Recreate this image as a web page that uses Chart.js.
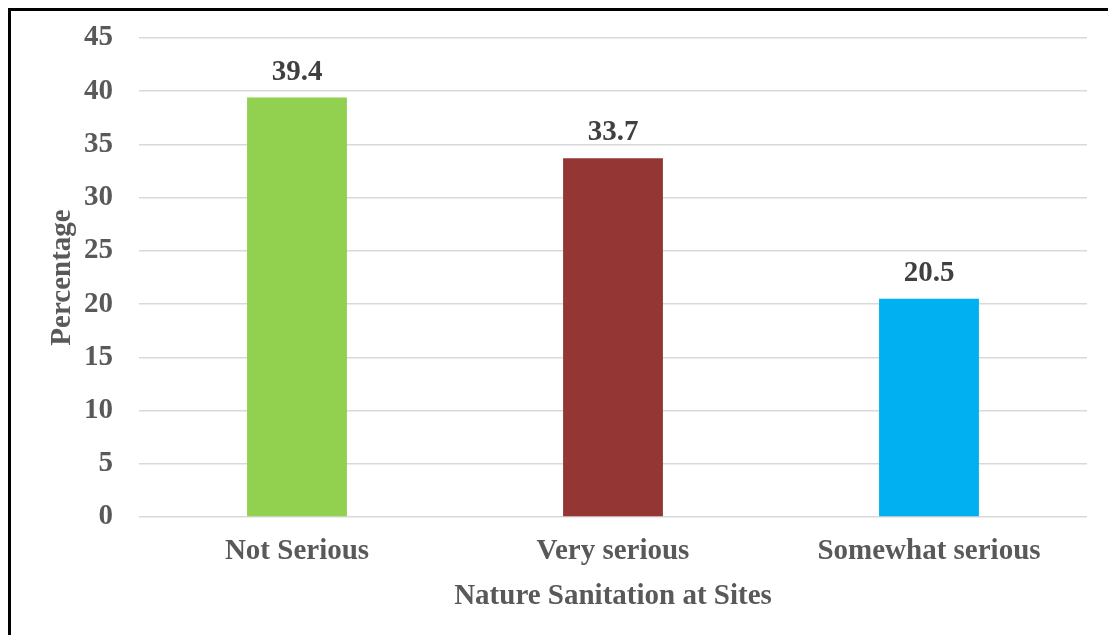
<!DOCTYPE html>
<html>
<head>
<meta charset="utf-8">
<script src="https://cdn.jsdelivr.net/npm/chart.js@4"></script>
<style>
  html, body { margin: 0; padding: 0; background: #fff; overflow: hidden; }
  #frame {
    position: absolute; left: 8px; top: 8px; width: 1200px; height: 700px;
    border: 3px solid #000; box-sizing: border-box;
  }
  #wrap { position: absolute; left: 0; top: 0; width: 1108px; height: 635px; }
</style>
</head>
<body>
<div id="frame"></div>
<div id="wrap"><canvas id="chart" width="1108" height="635"></canvas></div>
<script>
// Survey responses: perceived seriousness of sanitation at sites (%)
const categories = ['Not Serious', 'Very serious', 'Somewhat serious'];
const percentages = [39.4, 33.7, 20.5];
const barColors = ['#92D050', '#943634', '#00B0F0'];
const yTicks = [0, 5, 10, 15, 20, 25, 30, 35, 40, 45];

const serif = '"Liberation Serif", "Times New Roman", serif';

// Writes each bar's value just above it
const valueLabels = {
  id: 'valueLabels',
  afterDatasetsDraw(chart) {
    const ctx = chart.ctx;
    const meta = chart.getDatasetMeta(0);
    ctx.save();
    ctx.font = 'bold 29px ' + serif;
    ctx.fillStyle = '#404040';
    ctx.textAlign = 'center';
    ctx.textBaseline = 'alphabetic';
    meta.data.forEach((bar, i) => {
      ctx.fillText(percentages[i].toFixed(1), bar.x, bar.y - 18);
    });
    ctx.restore();
  }
};

new Chart(document.getElementById('chart'), {
  type: 'bar',
  data: {
    labels: categories,
    datasets: [{
      data: percentages,
      backgroundColor: barColors,
      borderWidth: 0,
      barPercentage: 0.316,
      categoryPercentage: 1.0
    }]
  },
  options: {
    responsive: false,
    animation: false,
    layout: { padding: { left: 10, right: 21, top: 38, bottom: 0 } },
    plugins: {
      legend: { display: false },
      tooltip: { enabled: false }
    },
    scales: {
      x: {
        grid: { display: false, drawTicks: false },
        border: { display: false },
        ticks: {
          color: '#595959',
          font: { family: serif, size: 29, weight: 'bold' },
          padding: 17,
          maxRotation: 0
        },
        title: {
          display: true,
          text: 'Nature Sanitation at Sites',
          color: '#595959',
          font: { family: serif, size: 29, weight: 'bold' },
          padding: { top: 0, bottom: 21 }
        },
        afterFit(scale) { scale.height = 118; }
      },
      y: {
        min: 0,
        max: 45,
        afterBuildTicks(scale) { scale.ticks = yTicks.map(v => ({ value: v })); },
        grid: { color: '#D9D9D9', lineWidth: 1.5, drawTicks: false },
        border: { display: false },
        ticks: {
          color: '#595959',
          font: { family: serif, size: 29, weight: 'bold' },
          padding: 26
        },
        title: {
          display: true,
          text: 'Percentage',
          color: '#595959',
          font: { family: serif, size: 29, weight: 'bold' },
          padding: { top: 35, bottom: 0 }
        },
        afterFit(scale) {
          scale.width = 129;
          scale.paddingTop = 0;
          scale.paddingBottom = 0;
        }
      }
    }
  },
  plugins: [valueLabels]
});
</script>
</body>
</html>
